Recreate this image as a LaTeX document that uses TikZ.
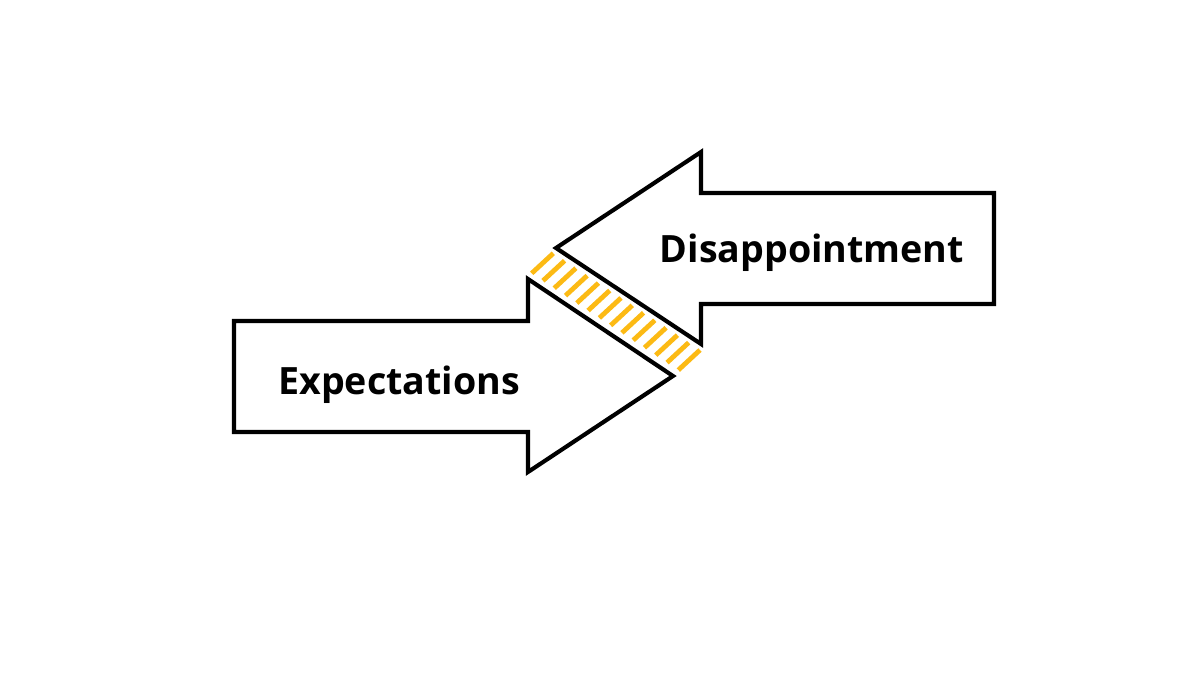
\documentclass[tikz,border=0pt]{standalone}
\usepackage{fontspec}
\setmainfont{Open Sans}
\begin{document}
\begin{tikzpicture}[x=0.75pt,y=-0.75pt]
\definecolor{hatchcol}{RGB}{252,186,20}
\tikzset{
  arrowshape/.style={draw=black,line width=3.1pt,line join=miter,fill=white},
  stripe/.style={draw=hatchcol,line width=3.6pt},
  txt/.style={font=\fontsize{28.2}{33}\selectfont\bfseries,anchor=base west,inner sep=0pt}
}
\fill[white] (0,0) rectangle (1200,675);
\useasboundingbox (0,0) rectangle (1200,675);
\draw[arrowshape] (234,321) -- (528,321) -- (528,279) -- (673,376) -- (528,472) -- (528,432) -- (234,432) -- cycle;
\draw[arrowshape] (994,193) -- (701,193) -- (701,152) -- (556,248) -- (701,344) -- (701,304) -- (994,304) -- cycle;
\foreach \i in {0,...,13}
  \draw[stripe] ({531.7+11.28*\i},{273.3+7.44*\i}) -- ++(21.6,-20);
\node[txt] (exp) at (278,394.5) {Expectations};
\node[txt] (dis) at (659.5,262) {Disappointment};
\end{tikzpicture}
\end{document}
